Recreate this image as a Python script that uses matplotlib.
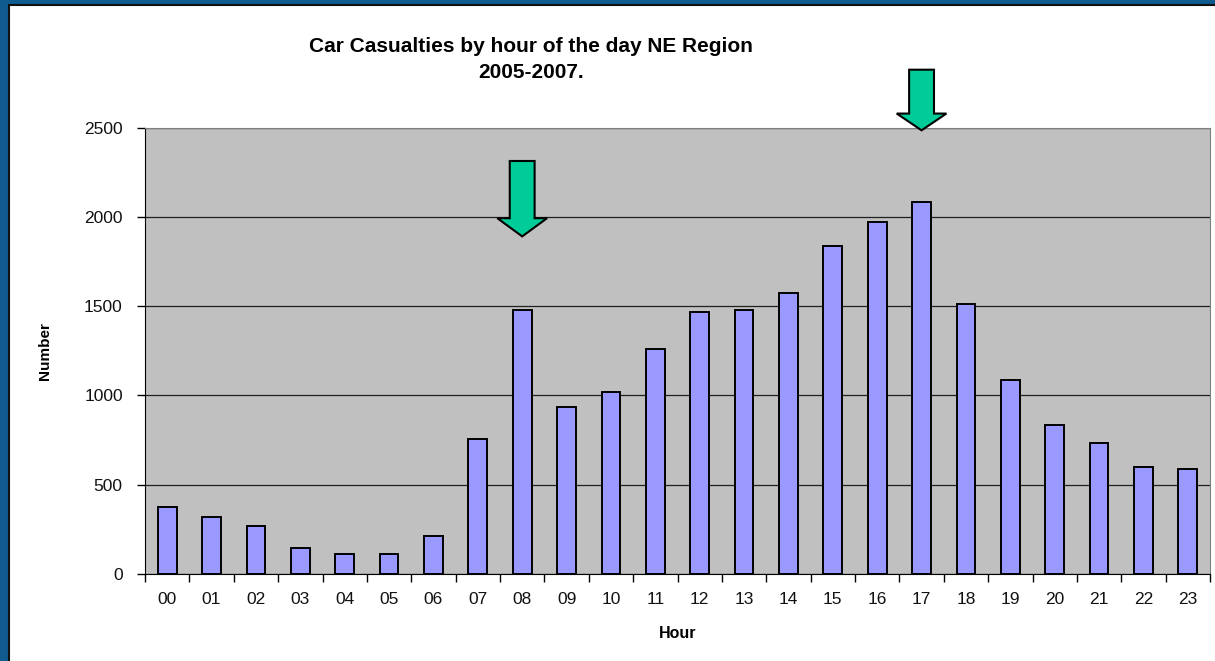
import numpy as np
import matplotlib
matplotlib.use("Agg")
import matplotlib.pyplot as plt
from matplotlib.patches import Polygon, Rectangle

plt.rcParams['font.family'] = ['Liberation Sans', 'DejaVu Sans']

# datos
horas = ["00", "01", "02", "03", "04", "05", "06", "07", "08", "09", "10", "11",
         "12", "13", "14", "15", "16", "17", "18", "19", "20", "21", "22", "23"]
victimas = [373, 319, 266, 143, 112, 112, 212, 758, 1480, 936, 1020, 1258,
            1466, 1481, 1575, 1837, 1974, 2083, 1513, 1088, 835, 735, 598, 588]
yticks = [0, 500, 1000, 1500, 2000, 2500]

# flechas: hora señalada, punta, base de la cabeza, extremo superior
flecha_horas = [8, 17]
flecha_punta = [1892, 2487]
flecha_base = [1994, 2581]
flecha_tope = [2315, 2827]

fig = plt.figure(figsize=(12.15, 6.61), dpi=100)
fig.patch.set_facecolor('#105B8F')
# marco blanco interior
fig.patches.append(Rectangle((9/1215, -0.01), 1.0, (661-5)/661 + 0.01,
                             transform=fig.transFigure, facecolor='white',
                             edgecolor='#111111', linewidth=1.5, zorder=-5))

ax = fig.add_axes([145/1215, (661-573.7)/661, (1210-145)/1215, (573.7-128)/661])
ax.set_zorder(2)
ax.set_facecolor('#C0C0C0')

x = np.arange(len(horas))
ax.bar(x, victimas, width=0.42, color='#9999FF', edgecolor='black', linewidth=1.4, zorder=3)

ax.set_xlim(-0.5, len(horas) - 0.5)
ax.set_ylim(0, 2500)
ax.set_yticks(yticks)
ax.set_yticklabels([str(v) for v in yticks], fontsize=12.5, color='#111111')
ax.yaxis.grid(True, color='#202020', linewidth=0.9, zorder=1)
ax.set_axisbelow(True)
ax.tick_params(axis='y', length=6, width=1, pad=10, direction='out')

ax.set_xticks(x)
ax.set_xticklabels(horas, fontsize=12.5, color='#111111')
ax.tick_params(axis='x', which='major', length=0, pad=13)
ax.set_xticks(np.arange(-0.5, len(horas)), minor=True)
ax.tick_params(axis='x', which='minor', length=6, width=1, direction='out')

for lado in ['top', 'right']:
    ax.spines[lado].set_color('#808080')
for lado in ['left', 'bottom']:
    ax.spines[lado].set_color('black')

ax.set_xlabel('Hour', fontsize=11.5, fontweight='bold', labelpad=14)
ax.set_ylabel('Number', fontsize=11, fontweight='bold', labelpad=23)

fig.text(531/1215, 1 - 47/661, 'Car Casualties by hour of the day NE Region',
         ha='center', va='center', fontsize=15, fontweight='bold')
fig.text(531/1215, 1 - 73/661, '2005-2007.',
         ha='center', va='center', fontsize=15, fontweight='bold')

# flechas verdes
for h, punta, base, tope in zip(flecha_horas, flecha_punta, flecha_base, flecha_tope):
    ws, wh = 0.28, 0.56
    pts = [(h - ws, tope), (h + ws, tope), (h + ws, base), (h + wh, base),
           (h, punta), (h - wh, base), (h - ws, base)]
    ax.add_patch(Polygon(pts, closed=True, facecolor='#00CC99', edgecolor='black',
                         linewidth=1.5, clip_on=False, zorder=5))

fig.savefig('out.png', dpi=100, facecolor=fig.get_facecolor())
